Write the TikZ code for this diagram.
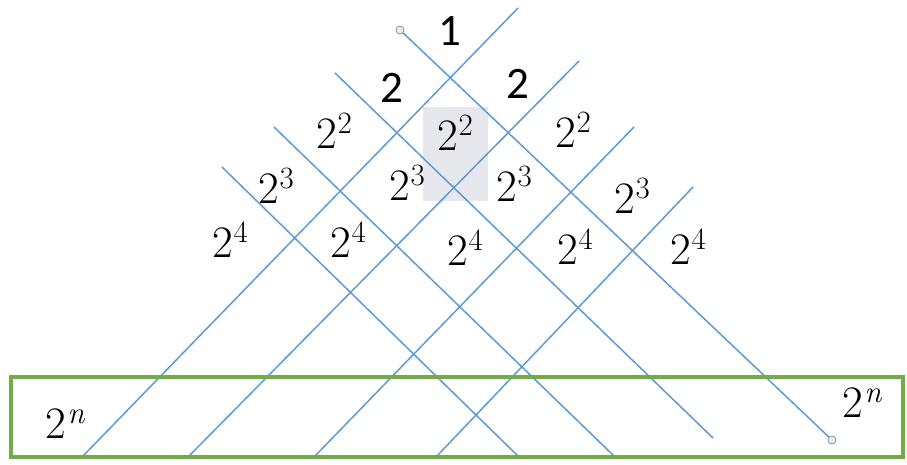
\documentclass[tikz,border=0pt]{standalone}
\usepackage{fontspec}
\newfontfamily\carlitofont{Carlito}
\definecolor{lineblue}{HTML}{5B9BD5}
\definecolor{boxgreen}{HTML}{70AD47}
\definecolor{hlgray}{HTML}{E7E8EE}
\newcommand\pw[1]{2\kern1pt\raisebox{15pt}{\fontsize{31}{32}\selectfont #1}}
\begin{document}
\begin{tikzpicture}[x=1pt,y=-1pt,
  diag/.style={draw=lineblue,line width=1.5pt},
  lbl/.style={inner sep=0pt,font=\fontsize{45}{48}\selectfont},
  plain/.style={inner sep=0pt,font=\carlitofont\fontsize{45}{48}\selectfont},
  endpt/.style={circle,draw=gray!80,fill=lineblue!15,line width=0.9pt,minimum size=8pt,inner sep=0pt}]
\useasboundingbox (0,0) rectangle (907,464);
% highlight box
\fill[hlgray] (423,107) rectangle (488,201);
% line endpoints
\coordinate (a1) at (400,30);  \coordinate (b1) at (832,440);
\coordinate (a2) at (335,73);  \coordinate (b2) at (713,438);
\coordinate (a3) at (274,127); \coordinate (b3) at (614,456);
\coordinate (a4) at (222,167); \coordinate (b4) at (518,456);
\coordinate (c1) at (518,8);   \coordinate (d1) at (83,456);
\coordinate (c2) at (579,61);  \coordinate (d2) at (189,456);
\coordinate (c3) at (634,127); \coordinate (d3) at (315,456);
\coordinate (c4) at (693,187); \coordinate (d4) at (437,456);
\foreach \i in {1,2,3,4}{
  \draw[diag] (a\i) -- (b\i);
  \draw[diag] (c\i) -- (d\i);
}
\node[endpt] (e1) at (a1) {};
\node[endpt] (e2) at (b1) {};
% green box
\draw[boxgreen,line width=3.5pt] (11,377) rectangle (903,457);
% labels
\node[plain] (n1) at (450,31) {1};
\node[plain] (n2a) at (392,88) {2};
\node[plain] (n2b) at (518,84) {2};
\node[lbl] (p2a) at (334,131) {\pw{2}};
\node[lbl] (p2b) at (455,133) {\pw{2}};
\node[lbl] (p2c) at (573,130) {\pw{2}};
\node[lbl] (p3a) at (276,186) {\pw{3}};
\node[lbl] (p3b) at (407,183) {\pw{3}};
\node[lbl] (p3c) at (514,184) {\pw{3}};
\node[lbl] (p3d) at (632,196) {\pw{3}};
\node[lbl] (p4a) at (230,240) {\pw{4}};
\node[lbl] (p4b) at (348,240) {\pw{4}};
\node[lbl] (p4c) at (465,248) {\pw{4}};
\node[lbl] (p4d) at (575,247) {\pw{4}};
\node[lbl] (p4e) at (688,247) {\pw{4}};
\node[lbl] (pn1) at (65,424) {\pw{\itshape n}};
\node[lbl] (pn2) at (862,403) {\pw{\itshape n}};
\end{tikzpicture}
\end{document}
